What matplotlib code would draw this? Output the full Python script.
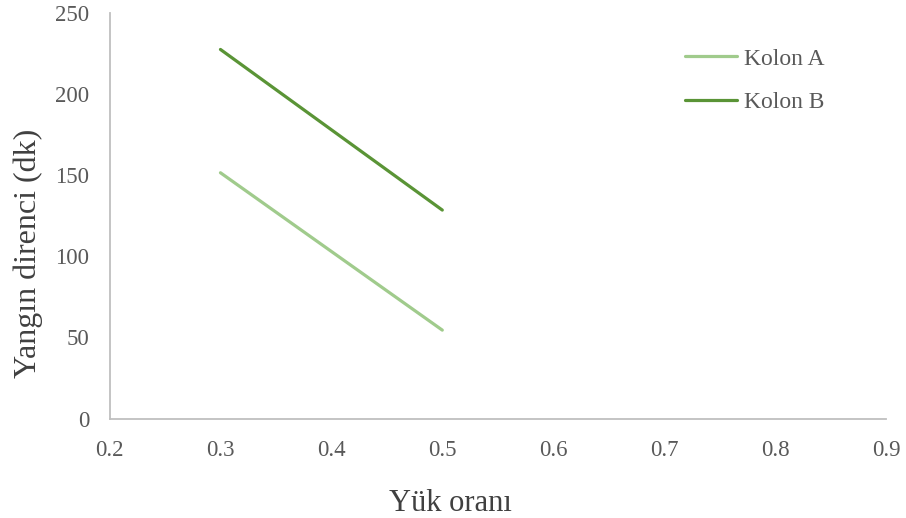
import matplotlib as mpl
import matplotlib.pyplot as plt

# data
LOAD_RATIO = [0.3, 0.5]
KOLON_A = [151.5, 54.5]
KOLON_B = [227.5, 128.5]

X_TICKS = [0.2, 0.3, 0.4, 0.5, 0.6, 0.7, 0.8, 0.9]
Y_TICKS = [0, 50, 100, 150, 200, 250]

COLOR_A = "#a0cb8c"
COLOR_B = "#5a9436"

mpl.rcParams.update(
    {
        "font.family": ["Liberation Serif", "DejaVu Serif"],
        "axes.spines.top": False,
        "axes.spines.right": False,
    }
)

fig = plt.figure(figsize=(9.06, 5.18), dpi=100)
ax = fig.add_axes([0.1209, 0.192, 0.857, 0.783])

ax.plot(LOAD_RATIO, KOLON_A, color=COLOR_A, linewidth=2.3, label="Kolon A",
        solid_capstyle="round")
ax.plot(LOAD_RATIO, KOLON_B, color=COLOR_B, linewidth=2.3, label="Kolon B",
        solid_capstyle="round")

ax.set_xlim(X_TICKS[0], X_TICKS[-1])
ax.set_ylim(Y_TICKS[0], Y_TICKS[-1])
ax.set_xticks(X_TICKS)
ax.set_yticks(Y_TICKS)
ax.xaxis.set_major_formatter(mpl.ticker.FuncFormatter(lambda v, _p: f"{v:.1f}"))

for side in ("left", "bottom"):
    ax.spines[side].set_color("#bfbfbf")
    ax.spines[side].set_linewidth(1.3)
ax.tick_params(length=0, labelsize=16.5, labelcolor="#595959")
ax.tick_params(axis="x", pad=15.5)
ax.tick_params(axis="y", pad=14.5)

ax.set_xlabel("Yük oranı", fontsize=22, color="#404040", va="center")
ax.xaxis.set_label_coords(0.4385, -0.209)
ax.set_ylabel("Yangın direnci (dk)", fontsize=23, color="#404040", va="center")
ax.yaxis.set_label_coords(-0.105, 0.408)

fig.legend(
    loc="upper left",
    bbox_to_anchor=(685 / 906, 1 - 48 / 518),
    frameon=False,
    fontsize=17,
    labelcolor="#595959",
    handlelength=2.2,
    handletextpad=0.3,
    labelspacing=0.92,
    borderpad=0,
    borderaxespad=0,
)

fig.savefig("out.png", dpi=100)
